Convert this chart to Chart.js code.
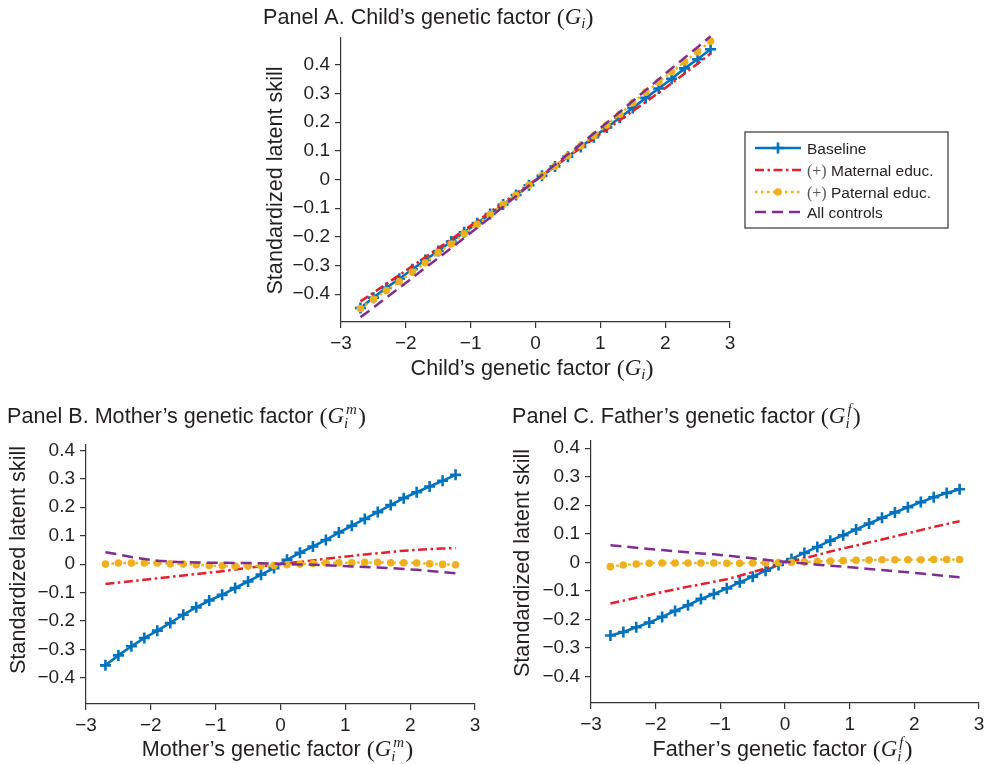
<!DOCTYPE html>
<html>
<head>
<meta charset="utf-8">
<script src="https://cdn.jsdelivr.net/npm/chart.js@4.4.1/dist/chart.umd.min.js"></script>
<style>
  html, body { margin: 0; padding: 0; background: #ffffff; }
  body { width: 985px; height: 764px; position: relative; overflow: hidden; }
  canvas { position: absolute; }
</style>
</head>
<body>
<canvas id="cA" width="730" height="390" style="left:255px;top:0px;width:730px;height:390px"></canvas>
<canvas id="cB" width="490" height="369" style="left:0px;top:395px;width:490px;height:369px"></canvas>
<canvas id="cC" width="490" height="369" style="left:495px;top:395px;width:490px;height:369px"></canvas>
<script>
// ---------------- DATA ----------------
const xValues = [-2.7, -2.5, -2.3, -2.1, -1.9, -1.7, -1.5, -1.3, -1.1, -0.9, -0.7, -0.5, -0.3, -0.1,
                 0.1, 0.3, 0.5, 0.7, 0.9, 1.1, 1.3, 1.5, 1.7, 1.9, 2.1, 2.3, 2.5, 2.7];

const seriesNames = ['Baseline', 'Maternal educ.', 'Paternal educ.', 'All controls'];

// Panel A: child's genetic factor
const childBaseline = [-0.448, -0.412, -0.378, -0.346, -0.313, -0.281, -0.249, -0.216, -0.184, -0.152, -0.120, -0.087, -0.054, -0.020,
                       0.013, 0.046, 0.080, 0.114, 0.148, 0.182, 0.216, 0.250, 0.285, 0.318, 0.352, 0.388, 0.420, 0.455];
const childMaternal = [-0.425, -0.395, -0.364, -0.333, -0.302, -0.271, -0.240, -0.208, -0.177, -0.145, -0.113, -0.081, -0.049, -0.017,
                       0.015, 0.047, 0.079, 0.111, 0.143, 0.175, 0.207, 0.239, 0.271, 0.303, 0.336, 0.370, 0.404, 0.440];
const childPaternal = [-0.450, -0.418, -0.387, -0.356, -0.323, -0.290, -0.255, -0.225, -0.189, -0.156, -0.122, -0.087, -0.055, -0.020,
                       0.013, 0.046, 0.083, 0.118, 0.153, 0.190, 0.228, 0.268, 0.305, 0.340, 0.376, 0.411, 0.446, 0.483];
const childAll = [-0.480, -0.447, -0.412, -0.378, -0.343, -0.308, -0.274, -0.239, -0.204, -0.168, -0.132, -0.095, -0.058, -0.021,
                  0.016, 0.052, 0.088, 0.124, 0.161, 0.198, 0.236, 0.274, 0.312, 0.350, 0.388, 0.425, 0.462, 0.500];

// Panel B: mother's genetic factor
const motherBaseline = [-0.356, -0.321, -0.289, -0.260, -0.234, -0.207, -0.178, -0.152, -0.128, -0.108, -0.084, -0.061, -0.037, -0.014,
                        0.015, 0.040, 0.062, 0.085, 0.111, 0.135, 0.159, 0.183, 0.208, 0.232, 0.253, 0.273, 0.293, 0.314];
const motherMaternal = [-0.070, -0.065, -0.060, -0.055, -0.050, -0.045, -0.040, -0.035, -0.030, -0.025, -0.019, -0.013, -0.008, -0.003,
                        0.003, 0.008, 0.013, 0.019, 0.024, 0.029, 0.034, 0.038, 0.043, 0.047, 0.050, 0.053, 0.055, 0.056];
const motherPaternal = [0.000, 0.004, 0.004, 0.004, 0.004, 0.001, 0.000, -0.002, -0.005, -0.006, -0.007, -0.007, -0.006, -0.005,
                        -0.002, 0.000, 0.002, 0.004, 0.005, 0.005, 0.006, 0.006, 0.005, 0.005, 0.004, 0.001, -0.001, -0.002];
const motherAll = [0.042, 0.034, 0.025, 0.018, 0.012, 0.009, 0.007, 0.006, 0.005, 0.005, 0.004, 0.004, 0.003, 0.002,
                   0.000, -0.001, -0.002, -0.004, -0.006, -0.008, -0.010, -0.012, -0.014, -0.017, -0.020, -0.024, -0.028, -0.032];

// Panel C: father's genetic factor
const fatherBaseline = [-0.256, -0.244, -0.227, -0.211, -0.191, -0.170, -0.150, -0.128, -0.111, -0.091, -0.070, -0.050, -0.029, -0.009,
                        0.012, 0.033, 0.054, 0.076, 0.095, 0.115, 0.136, 0.156, 0.175, 0.193, 0.211, 0.228, 0.243, 0.256];
const fatherMaternal = [-0.144, -0.134, -0.124, -0.114, -0.104, -0.095, -0.085, -0.077, -0.068, -0.059, -0.047, -0.034, -0.021, -0.007,
                        0.005, 0.014, 0.026, 0.038, 0.049, 0.059, 0.070, 0.080, 0.091, 0.102, 0.113, 0.124, 0.134, 0.144];
const fatherPaternal = [-0.015, -0.009, -0.006, -0.003, -0.002, -0.002, -0.002, -0.002, -0.002, -0.003, -0.003, -0.002, -0.001, -0.001,
                        0.000, 0.001, 0.003, 0.005, 0.006, 0.007, 0.008, 0.009, 0.009, 0.009, 0.009, 0.010, 0.010, 0.010];
const fatherAll = [0.060, 0.056, 0.051, 0.047, 0.043, 0.039, 0.035, 0.031, 0.028, 0.024, 0.019, 0.014, 0.009, 0.004,
                   0.000, -0.004, -0.008, -0.012, -0.015, -0.019, -0.023, -0.027, -0.031, -0.035, -0.039, -0.043, -0.048, -0.052];

const xTickValues = [-3, -2, -1, 0, 1, 2, 3];
const xTickLabels = ['\u22123', '\u22122', '\u22121', '0', '1', '2', '3'];
const yTickValues = [-0.4, -0.3, -0.2, -0.1, 0, 0.1, 0.2, 0.3, 0.4];
const yTickLabels = ['\u22120.4', '\u22120.3', '\u22120.2', '\u22120.1', '0', '0.1', '0.2', '0.3', '0.4'];

// ---------------- STYLE ----------------
const SANS = '"Liberation Sans", Arial, Helvetica, sans-serif';
const SERIF = '"Liberation Serif", "Times New Roman", serif';
const TEXT = '#231f20';
const AXIS = '#333333';
const COLORS = { base: '#0072BD', mat: '#E3202B', pat: '#EDB120', all: '#7E2F8E' };
const TS = 21.6; // title font size

function sans(sz) { return sz + 'px ' + SANS; }
function serif(sz) { return sz + 'px ' + SERIF; }
function iserif(sz) { return 'italic ' + sz + 'px ' + SERIF; }

function measureParts(ctx, parts) {
  let w = 0;
  for (const p of parts) {
    if (p.stack) {
      let m = 0;
      for (const s of p.stack) { ctx.font = s.f; m = Math.max(m, ctx.measureText(s.t).width + (s.dx || 0)); }
      p._w = m + 1;
    } else {
      ctx.font = p.f; p._w = ctx.measureText(p.t).width;
    }
    w += p._w;
  }
  return w;
}
function drawRich(ctx, parts, x, y, align) {
  const total = measureParts(ctx, parts);
  let cx = align === 'center' ? x - total / 2 : x;
  ctx.textAlign = 'left';
  ctx.textBaseline = 'alphabetic';
  for (const p of parts) {
    if (p.stack) {
      for (const s of p.stack) { ctx.font = s.f; ctx.fillText(s.t, cx + (s.dx || 0), y + (s.dy || 0)); }
    } else {
      ctx.font = p.f;
      if (p.c) { ctx.save(); ctx.fillStyle = p.c; ctx.fillText(p.t, cx, y + (p.dy || 0)); ctx.restore(); }
      else ctx.fillText(p.t, cx, y + (p.dy || 0));
    }
    cx += p._w;
  }
}

function mathG(sub, sup) {
  const parts = [{ t: '(', f: serif(24), dy: 1 }, { t: 'G', f: iserif(23) }];
  if (sup) parts.push({ stack: [{ t: sup, f: iserif(15), dy: -9, dx: 2 }, { t: sub, f: iserif(15), dy: 5 }] });
  else parts.push({ t: sub, f: iserif(15), dy: 4 });
  parts.push({ t: ')', f: serif(24), dy: 1 });
  return parts;
}

const decorPlugin = {
  id: 'decor',
  afterDraw(chart, args, o) {
    const ctx = chart.ctx;
    ctx.save();
    ctx.fillStyle = TEXT;
    if (o.title) drawRich(ctx, o.title.parts, o.title.x, o.title.y, 'left');
    if (o.xTitle) drawRich(ctx, o.xTitle.parts, o.xTitle.x, o.xTitle.y, 'center');
    if (o.yTitle) {
      ctx.save();
      ctx.translate(o.yTitle.x, o.yTitle.y);
      ctx.rotate(-Math.PI / 2);
      drawRich(ctx, o.yTitle.parts, 0, 0, 'center');
      ctx.restore();
    }
    if (o.legend) {
      const L = o.legend;
      ctx.strokeStyle = '#444';
      ctx.lineWidth = 1.3;
      ctx.strokeRect(L.x, L.y, L.w, L.h);
      chart.data.datasets.forEach((ds, i) => {
        const yy = L.rows[i];
        ctx.save();
        ctx.strokeStyle = ds.borderColor;
        ctx.lineWidth = ds.borderWidth;
        ctx.setLineDash(ds.borderDash || []);
        ctx.beginPath();
        ctx.moveTo(L.lineX0, yy);
        ctx.lineTo(L.lineX1, yy);
        ctx.stroke();
        ctx.setLineDash([]);
        const mx = (L.lineX0 + L.lineX1) / 2;
        if (ds.pointStyle === 'cross' && ds.pointRadius > 0) {
          ctx.lineWidth = ds.pointBorderWidth;
          ctx.beginPath();
          ctx.moveTo(mx - ds.pointRadius, yy); ctx.lineTo(mx + ds.pointRadius, yy);
          ctx.moveTo(mx, yy - ds.pointRadius); ctx.lineTo(mx, yy + ds.pointRadius);
          ctx.stroke();
        } else if (ds.pointStyle === 'circle' && ds.pointRadius > 0) {
          ctx.fillStyle = ds.pointBackgroundColor;
          ctx.beginPath(); ctx.arc(mx, yy, ds.pointRadius, 0, Math.PI * 2); ctx.fill();
        }
        ctx.restore();
        drawRich(ctx, L.texts[i], L.textX, yy + 5.5, 'left');
      });
    }
    ctx.restore();
  }
};

function makeDatasets(b, m, p, a) {
  const pts = arr => xValues.map((x, i) => ({ x: x, y: arr[i] }));
  return [
    { label: seriesNames[0], data: pts(b), borderColor: COLORS.base, backgroundColor: COLORS.base, borderWidth: 2.6,
      pointStyle: 'cross', pointRadius: 5.5, pointBorderWidth: 2.6, pointBorderColor: COLORS.base, pointBackgroundColor: COLORS.base, order: 4 },
    { label: seriesNames[1], data: pts(m), borderColor: COLORS.mat, backgroundColor: COLORS.mat, borderWidth: 2.5,
      borderDash: [9, 3.5, 2.5, 3.5], pointRadius: 0, pointStyle: 'line', order: 3 },
    { label: seriesNames[2], data: pts(p), borderColor: COLORS.pat, backgroundColor: COLORS.pat, borderWidth: 2.5,
      borderDash: [2.5, 3.5], pointStyle: 'circle', pointRadius: 3.8, pointBorderWidth: 0, pointBackgroundColor: COLORS.pat, pointBorderColor: COLORS.pat, order: 2 },
    { label: seriesNames[3], data: pts(a), borderColor: COLORS.all, backgroundColor: COLORS.all, borderWidth: 2.5,
      borderDash: [11, 6], pointRadius: 0, pointStyle: 'line', order: 1 }
  ];
}

function makeChart(id, cfg) {
  const tickFont = { family: SANS, size: 19 };
  new Chart(document.getElementById(id), {
    type: 'line',
    data: { datasets: makeDatasets.apply(null, cfg.series) },
    options: {
      responsive: false,
      animation: false,
      devicePixelRatio: 1,
      events: [],
      clip: false,
      layout: { autoPadding: false, padding: { top: cfg.area.top, right: cfg.area.right, left: 0, bottom: 0 } },
      elements: { line: { tension: 0 } },
      plugins: {
        legend: { display: false },
        tooltip: { enabled: false },
        decor: cfg.decor
      },
      scales: {
        x: {
          type: 'linear', min: -3, max: 3,
          afterFit: s => { s.height = cfg.area.xH; s.paddingLeft = 0; s.paddingRight = 0; },
          afterBuildTicks: s => { s.ticks = xTickValues.map(v => ({ value: v })); },
          ticks: { font: tickFont, color: TEXT, padding: 4, maxRotation: 0, autoSkip: false,
                   callback: (v) => xTickLabels[xTickValues.indexOf(v)] },
          grid: { drawOnChartArea: false, drawTicks: true, tickLength: 6, color: AXIS, lineWidth: 1.2 },
          border: { display: true, color: AXIS, width: 1.2 }
        },
        y: {
          type: 'linear', min: cfg.yMin, max: cfg.yMax,
          afterFit: s => { s.width = cfg.area.yW; s.paddingTop = 0; s.paddingBottom = 0; },
          afterBuildTicks: s => { s.ticks = yTickValues.map(v => ({ value: v })); },
          ticks: { font: tickFont, color: TEXT, padding: 5, autoSkip: false,
                   callback: (v) => { const i = yTickValues.findIndex(t => Math.abs(t - v) < 1e-9); return yTickLabels[i]; } },
          grid: { drawOnChartArea: false, drawTicks: true, tickLength: 6, color: AXIS, lineWidth: 1.2 },
          border: { display: true, color: AXIS, width: 1.2 }
        }
      }
    },
    plugins: [decorPlugin]
  });
}

const yLabelParts = [{ t: 'Standardized latent skill', f: sans(TS) }];

// Panel A (canvas origin 255,0)
makeChart('cA', {
  series: [childBaseline, childMaternal, childPaternal, childAll],
  yMin: -0.497, yMax: 0.494,
  area: { top: 38, right: 255, yW: 86, xH: 68 },
  decor: {
    title: { x: 8, y: 24, parts: [{ t: 'Panel A. Child\u2019s genetic factor ', f: sans(TS) }].concat(mathG('i')) },
    xTitle: { x: 277, y: 375, parts: [{ t: 'Child\u2019s genetic factor ', f: sans(TS) }].concat(mathG('i')) },
    yTitle: { x: 27, y: 180.5, parts: yLabelParts },
    legend: {
      x: 490, y: 132, w: 203, h: 96,
      rows: [148, 170, 192, 212],
      lineX0: 500, lineX1: 546, textX: 552,
      texts: [
        [{ t: 'Baseline', f: sans(15.5) }],
        [{ t: '(+)', f: serif(16), c: '#555' }, { t: ' Maternal educ.', f: sans(15.5) }],
        [{ t: '(+)', f: serif(16), c: '#555' }, { t: ' Paternal educ.', f: sans(15.5) }],
        [{ t: 'All controls', f: sans(15.5) }]
      ]
    }
  }
});

// Panel B (canvas origin 0,395)
makeChart('cB', {
  series: [motherBaseline, motherMaternal, motherPaternal, motherAll],
  yMin: -0.492, yMax: 0.419,
  area: { top: 50, right: 15, yW: 86, xH: 60 },
  decor: {
    title: { x: 7, y: 28, parts: [{ t: 'Panel B. Mother\u2019s genetic factor ', f: sans(TS) }].concat(mathG('i', 'm')) },
    xTitle: { x: 277.5, y: 361, parts: [{ t: 'Mother\u2019s genetic factor ', f: sans(TS) }].concat(mathG('i', 'm')) },
    yTitle: { x: 25, y: 165, parts: yLabelParts }
  }
});

// Panel C (canvas origin 495,395)
makeChart('cC', {
  series: [fatherBaseline, fatherMaternal, fatherPaternal, fatherAll],
  yMin: -0.4925, yMax: 0.425,
  area: { top: 46, right: 6, yW: 96, xH: 61 },
  decor: {
    title: { x: 17, y: 28, parts: [{ t: 'Panel C. Father\u2019s genetic factor ', f: sans(TS) }].concat(mathG('i', 'f')) },
    xTitle: { x: 287.5, y: 361, parts: [{ t: 'Father\u2019s genetic factor ', f: sans(TS) }].concat(mathG('i', 'f')) },
    yTitle: { x: 34, y: 168, parts: yLabelParts }
  }
});
</script>
</body>
</html>
